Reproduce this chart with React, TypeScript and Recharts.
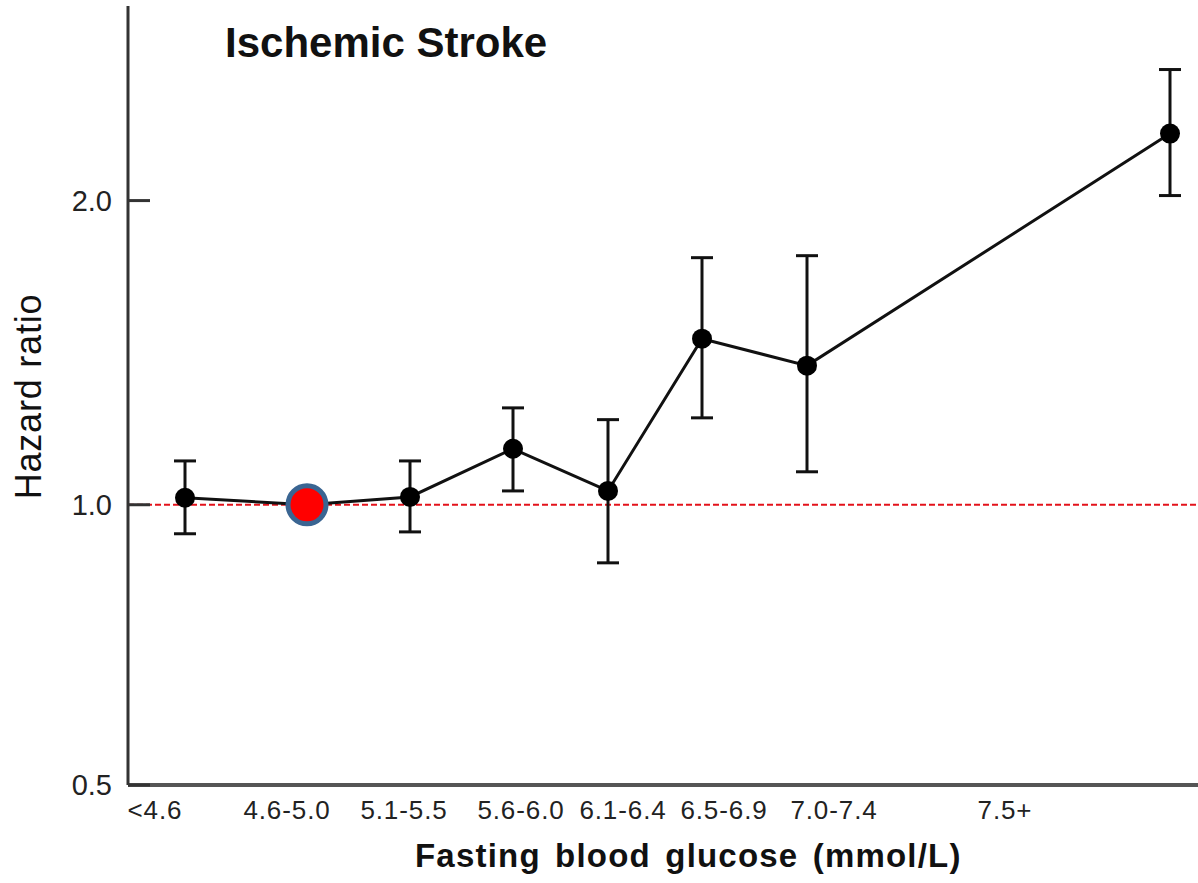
import React from "react";
import { ComposedChart, Line, XAxis, YAxis, ErrorBar, ReferenceLine } from "recharts";

// Fasting blood glucose groups and hazard ratios for ischemic stroke
const groups = ["<4.6", "4.6-5.0", "5.1-5.5", "5.6-6.0", "6.1-6.4", "6.5-6.9", "7.0-7.4", "7.5+"];
const meanGlucose = [4.19, 4.8, 5.315, 5.83, 6.305, 6.775, 7.3, 9.115];
const hazardRatio = [1.016, 1.0, 1.018, 1.136, 1.032, 1.46, 1.373, 2.33];
const ciLower = [0.936, 1.0, 0.94, 1.032, 0.876, 1.219, 1.078, 2.023];
const ciUpper = [1.105, 1.0, 1.105, 1.247, 1.214, 1.756, 1.764, 2.696];

// Group label positions along the glucose axis
const labelPositions = [4.04, 4.7, 5.285, 5.87, 6.38, 6.885, 7.435, 8.29];
const referenceGroup = "4.6-5.0";

const X_DOMAIN: [number, number] = [3.905, 9.255];
const Y_DOMAIN: [number, number] = [0.528, 3.116];
const yTicks = [0.528, 1, 2];

const data = groups.map((group, i) => ({
  group,
  glucose: meanGlucose[i],
  hr: hazardRatio[i],
  err: [hazardRatio[i] - ciLower[i], ciUpper[i] - hazardRatio[i]],
}));

const FONT = '"Liberation Sans", Arial, Helvetica, sans-serif';

const renderDot = (props: any) => {
  const { cx, cy, payload, index } = props;
  if (payload.group === referenceGroup) {
    return <circle key={`dot-${index}`} cx={cx} cy={cy} r={19} fill="#ff0000" stroke="#3a6592" strokeWidth={5} />;
  }
  return <circle key={`dot-${index}`} cx={cx} cy={cy} r={10} fill="#000" />;
};

export default function App() {
  return (
    <div style={{ position: "absolute", left: 0, top: 0, background: "#fff" }}>
      <ComposedChart
        width={1198}
        height={883}
        data={data}
        margin={{ top: 6, right: 0, bottom: 0, left: 0 }}
        style={{ fontFamily: FONT }}
      >
        <XAxis
          dataKey="glucose"
          type="number"
          domain={X_DOMAIN}
          allowDataOverflow
          ticks={labelPositions}
          interval={0}
          tickFormatter={(_v: number, i: number) => groups[i]}
          height={98}
          tickLine={false}
          tickSize={0}
          tickMargin={16}
          axisLine={{ stroke: "#555", strokeWidth: 4 }}
          tick={{ fill: "#222", fontSize: 26, letterSpacing: 0.9, fontFamily: FONT }}
        />
        <YAxis
          type="number"
          scale="log"
          domain={Y_DOMAIN}
          allowDataOverflow
          ticks={yTicks}
          interval={0}
          tickFormatter={(v: number) => v.toFixed(1)}
          width={128}
          tickSize={-22}
          tickMargin={38}
          tickLine={{ stroke: "#333", strokeWidth: 3 }}
          axisLine={{ stroke: "#333", strokeWidth: 3 }}
          tick={{ fill: "#222", fontSize: 29, fontFamily: FONT }}
        />
        <ReferenceLine y={1} stroke="#e3121b" strokeWidth={2} strokeDasharray="6 3" />
        <Line
          dataKey="hr"
          stroke="#111"
          strokeWidth={3}
          dot={renderDot}
          activeDot={false}
          isAnimationActive={false}
        >
          <ErrorBar dataKey="err" direction="y" width={11} stroke="#111" strokeWidth={3} isAnimationActive={false} />
        </Line>
        <text x={225} y={57} fontSize={42} fontWeight="bold" fill="#111" fontFamily={FONT}>
          Ischemic Stroke
        </text>
        <text
          x={-396.5}
          y={41}
          transform="rotate(-90)"
          textAnchor="middle"
          fontSize={36}
          letterSpacing={0.8}
          fill="#111"
          fontFamily={FONT}
        >
          Hazard ratio
        </text>
        <text
          x={415}
          y={867}
          fontSize={33}
          fontWeight="bold"
          wordSpacing={4}
          letterSpacing={1.2}
          fill="#111"
          fontFamily={FONT}
        >
          Fasting blood glucose (mmol/L)
        </text>
      </ComposedChart>
    </div>
  );
}
